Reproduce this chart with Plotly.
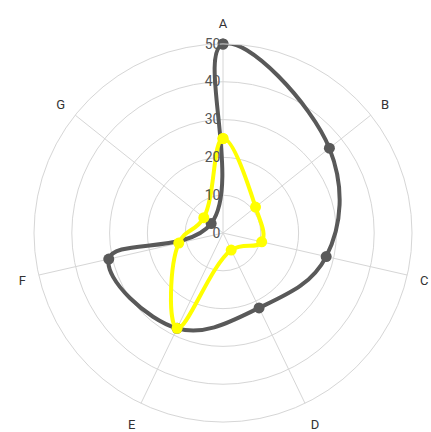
import plotly.graph_objects as go

categories = ["A", "B", "C", "D", "E", "F", "G"]
series_gray = [50, 36, 28, 22, 28, 31, 4]
series_yellow = [25, 11, 10.5, 5, 28, 12, 6.5]
radial_ticks = [0, 10, 20, 30, 40, 50]

def closed(vals):
    return vals + vals[:1]

fig = go.Figure()
fig.add_trace(go.Scatterpolar(
    r=closed(series_gray), theta=closed(categories), mode="lines+markers",
    line=dict(color="#595959", width=4, shape="spline", smoothing=1.15),
    marker=dict(size=11, color="#595959"), showlegend=False, name="Series 1"))
fig.add_trace(go.Scatterpolar(
    r=closed(series_yellow), theta=closed(categories), mode="lines+markers",
    line=dict(color="#ffff00", width=4, shape="spline", smoothing=1.15),
    marker=dict(size=11, color="#ffff00"), showlegend=False, name="Series 2"))

fig.update_layout(
    width=431, height=432,
    margin=dict(l=34, r=19, t=44, b=10),
    paper_bgcolor="white", plot_bgcolor="white",
    font=dict(family="Roboto, Arial, sans-serif", size=13, color="#333"),
    polar=dict(
        bgcolor="white",
        angularaxis=dict(
            rotation=90, direction="clockwise", categoryorder="array",
            categoryarray=categories,
            showline=True, linecolor="#d6d6d6", linewidth=1,
            gridcolor="#d6d6d6", gridwidth=1,
            ticks="outside", ticklen=10, tickcolor="rgba(0,0,0,0)",
            tickfont=dict(size=13, color="#333"),
        ),
        radialaxis=dict(
            range=[0, 50], tickvals=radial_ticks, angle=90, tickangle=90,
            side="counterclockwise",
            showline=False, gridcolor="#d6d6d6", gridwidth=1,
            tickfont=dict(size=14, color="#555"), ticks="",
        ),
    ),
)
fig.write_html("out.html", config={"displayModeBar": False},
               post_script="document.body.style.margin='0';")
